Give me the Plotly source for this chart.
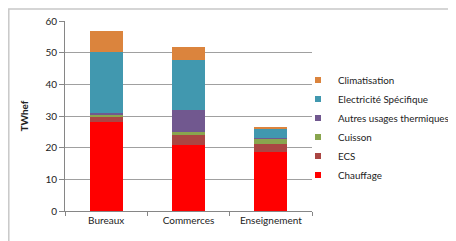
import plotly.graph_objects as go

categories = ["Bureaux", "Commerces", "Enseignement"]
series_names = ["Chauffage", "ECS", "Cuisson", "Autres usages thermiques", "Electricité Spécifique", "Climatisation"]
chauffage = [28.1, 20.9, 18.7]
ecs = [1.6, 3.1, 2.5]
cuisson = [0.8, 1.0, 1.8]
autres = [0.3, 6.9, 0.1]
electricite = [19.5, 15.8, 2.8]
climatisation = [6.5, 4.2, 0.4]
y_ticks = [0, 10, 20, 30, 40, 50, 60]

values = [chauffage, ecs, cuisson, autres, electricite, climatisation]
colors = ["#FF0000", "#AA4643", "#89A54E", "#71588F", "#4198AF", "#DB843D"]

fig = go.Figure()
for name, vals, col in zip(series_names, values, colors):
    fig.add_trace(go.Bar(x=categories, y=vals, name=name, showlegend=False,
                         marker=dict(color=col, line=dict(width=0))))
# legend entries with small square markers (Excel-like)
for name, col in zip(series_names, colors):
    fig.add_trace(go.Scatter(x=[None], y=[None], mode="markers", name=name,
                             marker=dict(symbol="square", size=6, color=col)))

# the page body adds an 8px offset, so the layout is shifted up/left by 8px
fig.update_layout(
    width=456, height=241,
    barmode="stack", bargap=0.6,
    margin=dict(l=57, r=152, t=13, b=38, autoexpand=False),
    paper_bgcolor="white", plot_bgcolor="white",
    font=dict(family="Lato", size=10, color="#222222"),
    showlegend=True,
    legend=dict(traceorder="reversed", x=(290 - 57) / 247, y=0.44, xanchor="left", yanchor="middle",
                itemwidth=30, tracegroupgap=0, font=dict(size=9.8),
                bgcolor="rgba(0,0,0,0)"),
    xaxis=dict(showline=True, linecolor="#868686", linewidth=1, ticks="outside",
               tickson="boundaries", ticklen=4, tickcolor="#868686", tickangle=0,
               tickfont=dict(size=10), showgrid=False, automargin=False),
    yaxis=dict(range=[0, 60], tickvals=y_ticks, showline=True, linecolor="#868686",
               ticks="outside", ticklen=5, tickcolor="#868686", gridcolor="#A0A0A0",
               gridwidth=1, zeroline=False, tickfont=dict(size=10), automargin=False,
               title=dict(text="<b>TWhef</b>", font=dict(size=10), standoff=14)),
    shapes=[dict(type="rect", xref="paper", yref="paper",
                 x0=-56.2/247, x1=1 + 160/247, y0=-45/190, y1=1 + 12/190,
                 line=dict(color="#C8C8C8", width=1.5), fillcolor="rgba(0,0,0,0)", layer="below")],
)

fig.write_html("out.html")
